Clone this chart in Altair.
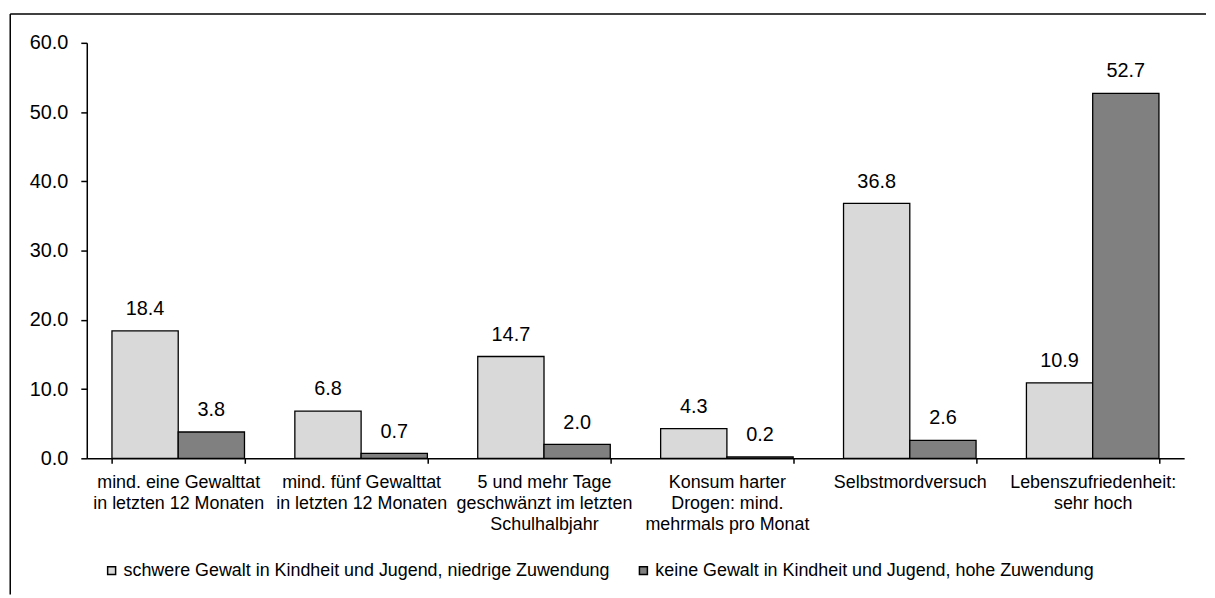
import altair as alt
import pandas as pd

categories = [
    "mind. eine Gewalttat|in letzten 12 Monaten",
    "mind. fünf Gewalttat|in letzten 12 Monaten",
    "5 und mehr Tage|geschwänzt im letzten|Schulhalbjahr",
    "Konsum harter|Drogen: mind.|mehrmals pro Monat",
    "Selbstmordversuch",
    "Lebenszufriedenheit:|sehr hoch",
]
series = [
    "schwere Gewalt in Kindheit und Jugend, niedrige Zuwendung",
    "keine Gewalt in Kindheit und Jugend, hohe Zuwendung",
]
values_low = [18.4, 6.8, 14.7, 4.3, 36.8, 10.9]
values_high = [3.8, 0.7, 2.0, 0.2, 2.6, 52.7]
colors = ["#d9d9d9", "#808080"]
y_ticks = [0, 10, 20, 30, 40, 50, 60]

rows = []
for c, a, b in zip(categories, values_low, values_high):
    rows.append({"cat": c, "grp": series[0], "val": a})
    rows.append({"cat": c, "grp": series[1], "val": b})
df = pd.DataFrame(rows)

W, H = 1104, 418
FONT = "Liberation Sans"

x_enc = alt.X(
    "cat:N",
    sort=categories,
    title=None,
    scale=alt.Scale(paddingInner=0.2754, paddingOuter=0.1377),
    axis=alt.Axis(
        labelExpr="split(datum.label, '|')",
        labelAngle=0,
        tickBand="extent",
        labelFontSize=18,
        labelFont=FONT,
        labelColor="black",
        labelLineHeight=21.5,
        labelPadding=10,
        tickSize=5,
        tickColor="black",
        tickWidth=1.5,
        domainColor="black",
        domainWidth=1.5,
        labelLimit=400,
        labelOverlap=False,
        grid=False,
    ),
)
xoff = alt.XOffset("grp:N", sort=series, scale=alt.Scale(paddingInner=0, paddingOuter=0))
y_enc = alt.Y(
    "val:Q",
    title=None,
    scale=alt.Scale(domain=[0, 60], nice=False),
    axis=alt.Axis(
        values=y_ticks,
        format=".1f",
        labelFontSize=20,
        labelFont=FONT,
        labelColor="black",
        labelPadding=13,
        tickSize=6,
        tickColor="black",
        tickWidth=1.5,
        domainColor="black",
        domainWidth=1.5,
        grid=False,
    ),
)

bars = alt.Chart(df).mark_bar(stroke="black", strokeWidth=1.3).encode(
    x=x_enc,
    xOffset=xoff,
    y=y_enc,
    color=alt.Color(
        "grp:N",
        sort=series,
        scale=alt.Scale(domain=series, range=colors),
        legend=alt.Legend(
            orient="none",
            legendX=16,
            legendY=522,
            direction="horizontal",
            title=None,
            symbolType="square",
            symbolSize=64,
            symbolStrokeColor="black",
            symbolStrokeWidth=1.5,
            labelFontSize=18,
            labelFont=FONT,
            labelColor="black",
            labelLimit=1000,
            labelOffset=3,
            columnPadding=24,
            padding=0,
        ),
    ),
)

labels = alt.Chart(df).mark_text(
    fontSize=20, font=FONT, color="black", baseline="alphabetic", dy=-16
).encode(
    x=alt.X("cat:N", sort=categories),
    xOffset=xoff,
    y=alt.Y("val:Q"),
    text=alt.Text("val:Q", format=".1f"),
)

frame_df = pd.DataFrame({"k": [0]})
left_line = alt.Chart(frame_df).mark_rule(color="black", strokeWidth=1.5).encode(
    x=alt.value(-77), y=alt.value(-29), y2=alt.value(555)
)
top_line = alt.Chart(frame_df).mark_rule(color="black", strokeWidth=1.5).encode(
    y=alt.value(-29), x=alt.value(-77), x2=alt.value(1126)
)

chart = (
    alt.layer(bars, labels, left_line, top_line)
    .properties(
        width=W,
        height=H,
        background="white",
        padding={"left": 1.25, "top": 3.25, "right": 0, "bottom": 0},
    )
    .configure_view(stroke=None, strokeWidth=0)
)

chart.save("out.html", embed_options={"renderer": "svg", "actions": False})
